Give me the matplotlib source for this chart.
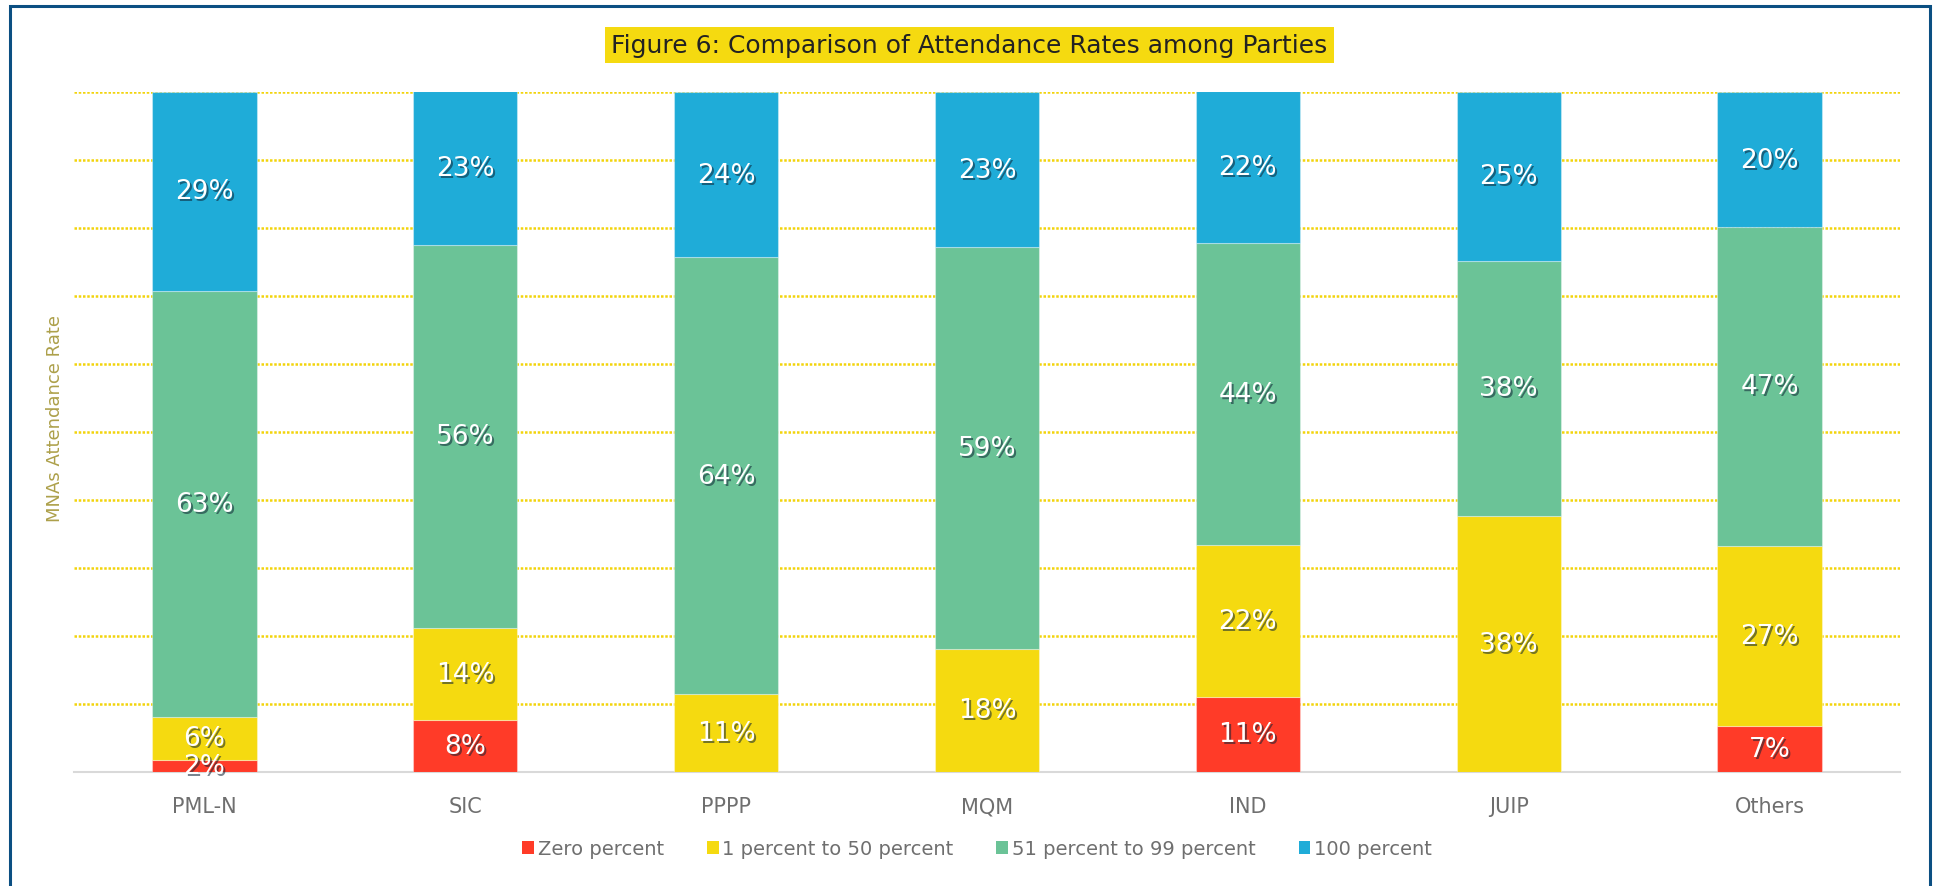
import numpy as np
import matplotlib
matplotlib.use("Agg")
import matplotlib.pyplot as plt
import matplotlib.transforms as mtrans
from matplotlib.patches import Rectangle, Patch

# data (percent of MNAs)
parties = ["PML-N", "SIC", "PPPP", "MQM", "IND", "JUIP", "Others"]
series_names = ["Zero percent", "1 percent to 50 percent", "51 percent to 99 percent", "100 percent"]
zero_pct = [1.8, 7.6, 0.0, 0.0, 11.1, 0.0, 6.7]
low_pct = [6.3, 13.6, 11.4, 18.1, 22.3, 37.6, 26.6]
mid_pct = [62.7, 56.3, 64.3, 59.1, 44.4, 37.6, 46.8]
full_pct = [29.2, 22.6, 24.3, 22.8, 22.3, 24.8, 19.9]

colors = ["#FF3B28", "#F5DA10", "#6BC397", "#1FACD8"]

fig = plt.figure(figsize=(19.35, 8.87), dpi=100)
ax = fig.add_axes([74/1935, 1-773/887, (1900-74)/1935, (773-93)/887])

x = np.arange(len(parties))
width = 0.4
bottom = np.zeros(len(parties))
shadow_tr = ax.transData + mtrans.ScaledTranslation(2/100, -2/100, fig.dpi_scale_trans)

for vals, col in zip([zero_pct, low_pct, mid_pct, full_pct], colors):
    vals = np.array(vals)
    ax.bar(x, vals, width, bottom=bottom, color=col, edgecolor=(1, 1, 1, 0.35), linewidth=0.8, zorder=3)
    for xi, b, v in zip(x, bottom, vals):
        if v > 0:
            lbl = f"{v:.0f}%"
            ax.text(xi, b + v/2, lbl, ha="center", va="center", color="#0d2233", alpha=0.55,
                    fontsize=19, transform=shadow_tr, zorder=4)
            ax.text(xi, b + v/2, lbl, ha="center", va="center", color="white",
                    fontsize=19, zorder=5)
    bottom = bottom + vals

ax.set_xlim(-0.5, 6.5)
ax.set_ylim(0, 100)
ax.set_yticks(np.arange(10, 101, 10))
ax.yaxis.grid(True, color="#F2D40C", linestyle=(0, (1, 0.7)), linewidth=1.8, zorder=0)
ax.tick_params(axis="y", left=False, labelleft=False)
ax.tick_params(axis="x", bottom=False, labelsize=15, labelcolor="#6f6f6f", pad=14)
ax.set_xticks(x)
ax.set_xticklabels(parties)
for s in ["top", "right", "left"]:
    ax.spines[s].set_visible(False)
ax.spines["bottom"].set_color("#D9D9D9")
ax.spines["bottom"].set_linewidth(1.5)
ax.set_axisbelow(True)

fig.text(55/1935, 1-418/887, "MNAs Attendance Rate", rotation=90, ha="center", va="center",
         fontsize=13, color="#ADA04A")

fig.text(0.501, 1-46/887, "Figure 6: Comparison of Attendance Rates among Parties", ha="center", va="center",
         fontsize=18, color="#222222",
         bbox=dict(boxstyle="square,pad=0.25", facecolor="#F5DA10", edgecolor="none"))

handles = [Patch(facecolor=c, edgecolor="none") for c in colors]
leg = fig.legend(handles, series_names, loc="center", bbox_to_anchor=(0.505, 1-850/887), ncol=4,
                 frameon=False, fontsize=14, handlelength=0.6, handleheight=0.6, handletextpad=0.2,
                 columnspacing=2.2)
for t in leg.get_texts():
    t.set_color("#6f6f6f")

fig.patches.append(Rectangle((10/1935, -0.05), (1930-10)/1935, 1.05-7/887, transform=fig.transFigure,
                             fill=False, edgecolor="#0B4F82", linewidth=2.2))

fig.savefig("out.png", dpi=100)
